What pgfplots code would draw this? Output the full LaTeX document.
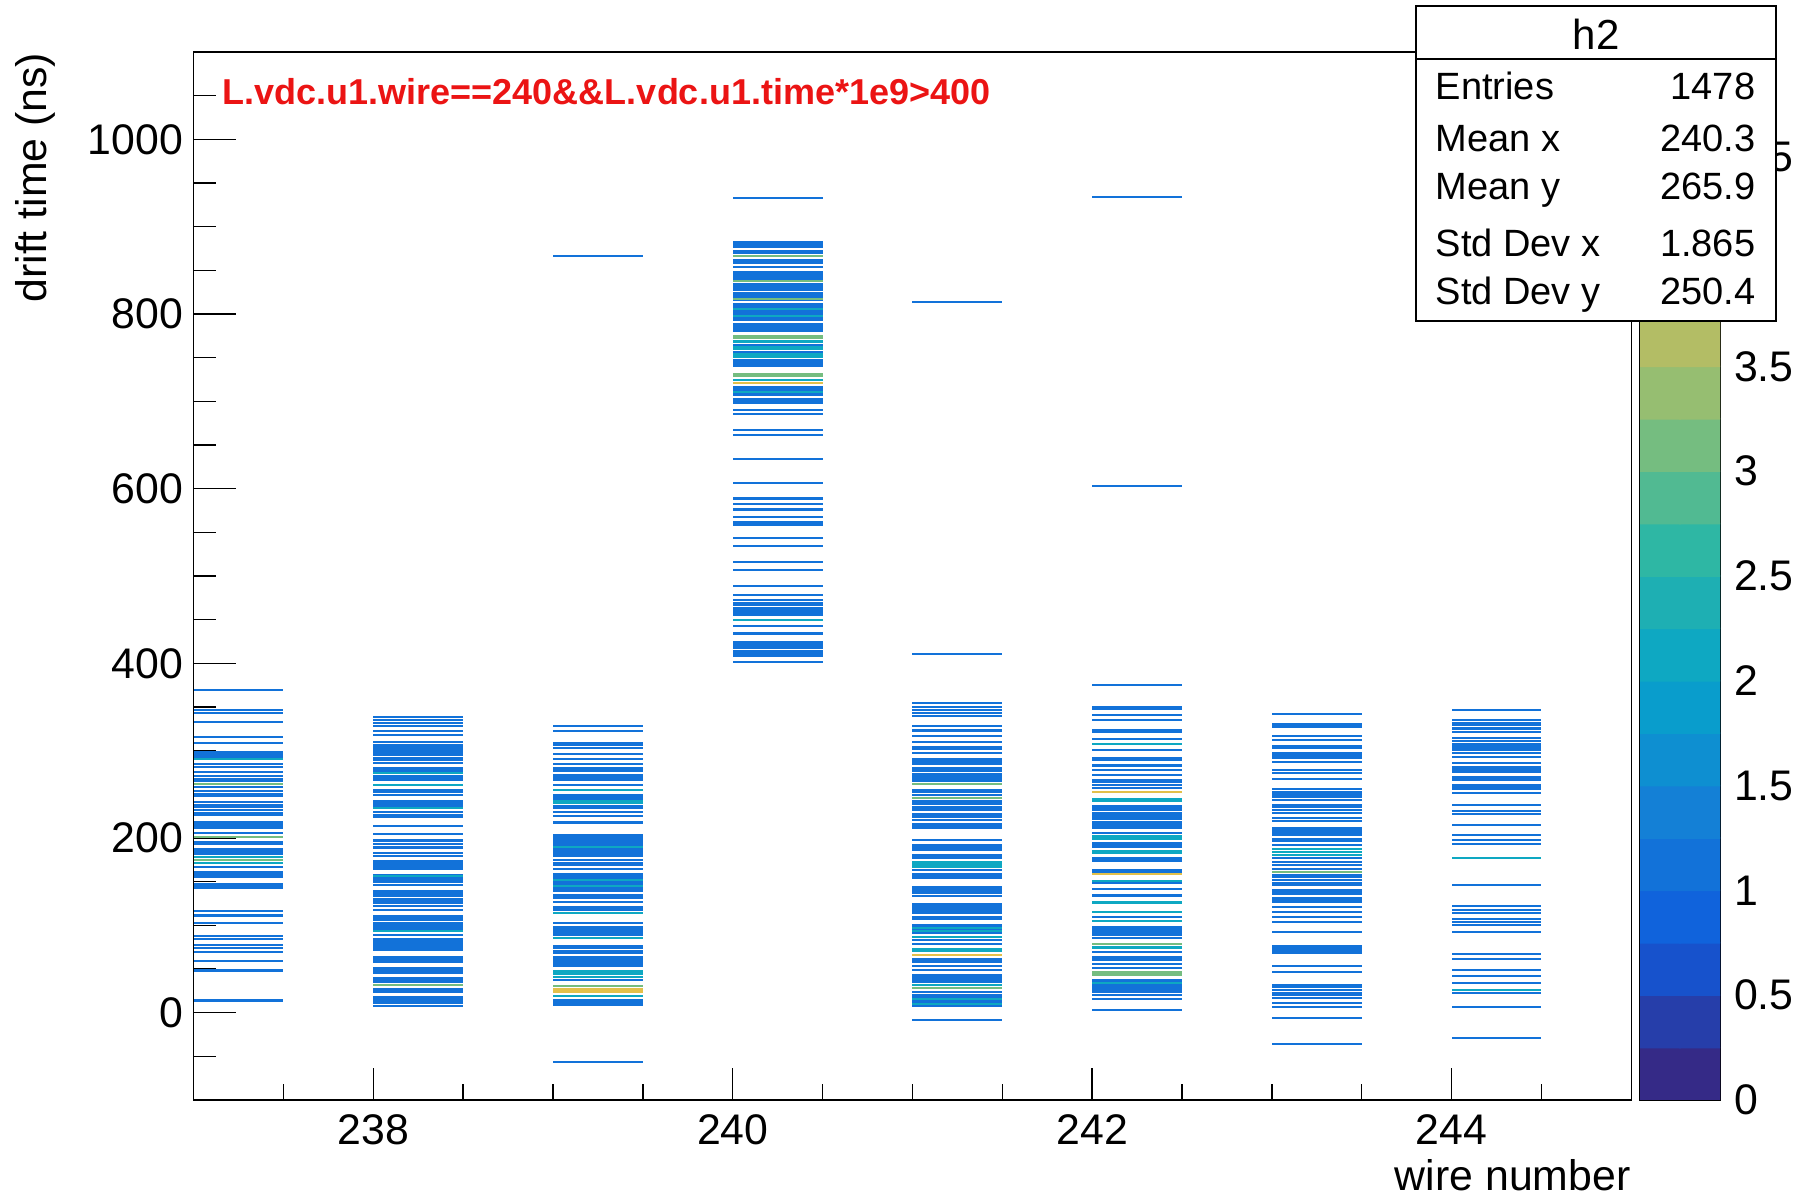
\documentclass[border=0pt]{standalone}
\usepackage{pgfplots}
\usepackage{pgfplotstable}
\pgfplotsset{compat=1.18}
\usepackage{fontspec}
\setmainfont{Liberation Sans}
\definecolor{cone}{rgb}{0.070,0.446,0.850}
\definecolor{ctwo}{rgb}{0.055,0.657,0.762}
\definecolor{cthree}{rgb}{0.460,0.743,0.502}
\definecolor{cfour}{rgb}{0.889,0.754,0.289}
\pgfplotsset{
  colormap={bird}{rgb=(0.2082,0.1664,0.5293) rgb=(0.0592,0.3599,0.8684) rgb=(0.0780,0.5041,0.8385) rgb=(0.0232,0.6419,0.7914) rgb=(0.1802,0.7178,0.6425) rgb=(0.5301,0.7492,0.4662) rgb=(0.8186,0.7328,0.3499) rgb=(0.9956,0.7862,0.1968) rgb=(0.9764,0.9832,0.0539)},
  rootframe/.style={scale only axis, width=359.4pt, height=262pt, at={(0pt,0pt)}, anchor=south west,
    xmin=237, xmax=245, ymin=-100, ymax=1100, tick align=inside,
    axis line style={line width=0.35pt}, every tick/.style={black, line width=0.35pt},
    tick label style={font=\fontsize{10.7}{12}\selectfont},
    /pgf/number format/assume math mode=true, /pgf/number format/1000 sep={}},
  wirebins/.style={only marks, mark=*, mark size=0pt, color=#1,
    error bars/.cd, y dir=both, y explicit, error mark=none,
    error bar style={line width=22.46pt, draw=#1}},
}
% bins holding 1 entry: x (bin centre), y (centre of run of bins, ns), h (height, ns)
\pgfplotstableread{
x y h
237.25 370 2.3
237.25 347 2.3
237.25 343 2.3
237.25 333 2.3
237.25 316 2.3
237.25 309 2.3
237.25 295 10
237.25 285 2.3
237.25 281 2.3
237.25 276 2.3
237.25 271 2.3
237.25 268 2.3
237.25 265 2.3
237.25 258 2.3
237.25 254 2.3
237.25 249 4
237.25 241 2.3
237.25 238 2.3
237.25 235 2.3
237.25 232 2.3
237.25 229 2.3
237.25 226 2.3
237.25 215 10
237.25 206 2.3
237.25 194 4
237.25 184 8
237.25 167 2.3
237.25 158 8
237.25 145 6
237.25 116 2.3
237.25 111 3
237.25 103 2.3
237.25 88 2.3
237.25 84 2.3
237.25 77 2.3
237.25 74 2.3
237.25 69 2.3
237.25 59 2.3
237.25 48 3
237.25 14 4
238.25 338 2.3
238.25 335 2.3
238.25 332 2.3
238.25 328 2.3
238.25 322 2.3
238.25 318 2.3
238.25 310 2.3
238.25 307 2.3
238.25 304 2.3
238.25 299.5 6
238.25 295 2.3
238.25 292 2.3
238.25 289 2.3
238.25 286 2.3
238.25 278 6
238.25 270 4
238.25 266 2.3
238.25 254 4
238.25 249 2.3
238.25 240 8
238.25 230 2.3
238.25 225 4
238.25 214 2.3
238.25 205 2.3
238.25 197 4
238.25 193 2.3
238.25 189 4
238.25 183 2.3
238.25 179 2.3
238.25 170.5 9
238.25 164 2.3
238.25 154 10
238.25 146 2.3
238.25 136 8
238.25 127.5 7
238.25 122 2.3
238.25 118 2.3
238.25 108.5 7
238.25 99 10
238.25 89 2.3
238.25 81.5 7
238.25 74 6
238.25 61 8
238.25 48 8
238.25 37 7
238.25 25 6
238.25 14.5 9
238.25 8 2.3
239.25 866 2.3
239.25 328 2.3
239.25 322 2.3
239.25 307.5 5
239.25 303 2.3
239.25 296 2.3
239.25 290 2.3
239.25 285 2.3
239.25 278.5 5
239.25 269 8
239.25 261 2.3
239.25 247 6
239.25 237 2.3
239.25 234 2.3
239.25 230 2.3
239.25 225 2.3
239.25 218 4
239.25 197.5 13
239.25 183.5 11
239.25 175 2.3
239.25 170.5 5
239.25 165 2.3
239.25 149 22
239.25 133 6
239.25 127 2.3
239.25 119 6
239.25 103 2.3
239.25 93.5 11
239.25 75.5 5
239.25 71 2.3
239.25 68 2.3
239.25 60 10
239.25 53 2.3
239.25 37 2.3
239.25 12 8
239.25 -56 2.3
240.25 933 2.3
240.25 879.5 7
240.25 871 5
240.25 860 5
240.25 854 2.3
240.25 843.5 11
240.25 831 10
240.25 820 10
240.25 802.5 21
240.25 785.5 9
240.25 780 2.3
240.25 765 2.3
240.25 757 2.3
240.25 744 10
240.25 712 12
240.25 700.5 7
240.25 690 2.3
240.25 686 2.3
240.25 667 2.3
240.25 661 2.3
240.25 634 2.3
240.25 606 2.3
240.25 589 3
240.25 582 2.3
240.25 576 4
240.25 568 2.3
240.25 560 5
240.25 544 2.3
240.25 534 2.3
240.25 516 2.3
240.25 507 2.3
240.25 488 2.3
240.25 478 2.3
240.25 472 2.3
240.25 468 4
240.25 459 10
240.25 443 2.3
240.25 434 3
240.25 420.5 9
240.25 411 8
240.25 402 2.3
241.25 814 2.3
241.25 410.5 2.3
241.25 354 2.3
241.25 350 2.3
241.25 346 2.3
241.25 343 2.3
241.25 340 2.3
241.25 328 2.3
241.25 323 4
241.25 317 2.3
241.25 310 2.3
241.25 303 5
241.25 297 2.3
241.25 289 6
241.25 285 2.3
241.25 278 6
241.25 269 10
241.25 253.5 5
241.25 249 2.3
241.25 241 6
241.25 234 6
241.25 226 6
241.25 221 2.3
241.25 213.5 7
241.25 198 2.3
241.25 189 8
241.25 179 6
241.25 163 2.3
241.25 156.5 7
241.25 140.5 9
241.25 134 2.3
241.25 119 12
241.25 108.5 5
241.25 95.5 11
241.25 83 2.3
241.25 79 2.3
241.25 60 6
241.25 53 2.3
241.25 49 2.3
241.25 39 10
241.25 24 2.3
241.25 13.5 15
241.25 -8 2.3
242.25 934 2.3
242.25 603 2.3
242.25 375 2.3
242.25 349 4
242.25 341 2.3
242.25 335 2.3
242.25 324 2.3
242.25 321 2.3
242.25 313 2.3
242.25 301 2.3
242.25 290.5 5
242.25 283 2.3
242.25 278 2.3
242.25 272 2.3
242.25 265 4
242.25 261 2.3
242.25 257 2.3
242.25 234.5 7
242.25 225.5 9
242.25 214.5 9
242.25 206 2.3
242.25 191.5 7
242.25 175 6
242.25 162.5 5
242.25 148 2.3
242.25 142 2.3
242.25 134 4
242.25 110 2.3
242.25 93.5 11
242.25 85 2.3
242.25 69 2.3
242.25 62 6
242.25 56 2.3
242.25 51 2.3
242.25 31 16
242.25 20 2.3
242.25 16 2.3
242.25 3 2.3
243.25 342 2.3
243.25 329 6
243.25 317 2.3
243.25 312 2.3
243.25 304.5 5
243.25 294 8
243.25 287 2.3
243.25 278 2.3
243.25 274 2.3
243.25 268 2.3
243.25 256 2.3
243.25 250 8
243.25 244 2.3
243.25 238 2.3
243.25 235 2.3
243.25 232 2.3
243.25 229 2.3
243.25 223 2.3
243.25 219 2.3
243.25 209 8
243.25 203 2.3
243.25 199 2.3
243.25 196 2.3
243.25 192 2.3
243.25 177 2.3
243.25 173 2.3
243.25 169 2.3
243.25 165 2.3
243.25 158 2.3
243.25 155 2.3
243.25 152 2.3
243.25 149 2.3
243.25 146 2.3
243.25 138.5 7
243.25 129.5 7
243.25 121 2.3
243.25 115 2.3
243.25 109 2.3
243.25 104 2.3
243.25 92 2.3
243.25 72 10
243.25 53 2.3
243.25 47 2.3
243.25 32 2.3
243.25 29 2.3
243.25 26 2.3
243.25 23 2.3
243.25 20 2.3
243.25 17 2.3
243.25 11 2.3
243.25 6 2.3
243.25 -6 2.3
243.25 -36 2.3
244.25 346 2.3
244.25 335 2.3
244.25 332 2.3
244.25 329 2.3
244.25 325.5 4
244.25 321 2.3
244.25 314 2.3
244.25 311 2.3
244.25 304.5 9
244.25 297 2.3
244.25 293 2.3
244.25 286 2.3
244.25 280 6
244.25 275 2.3
244.25 268 6
244.25 258.5 7
244.25 252 2.3
244.25 238 2.3
244.25 231 2.3
244.25 227 2.3
244.25 215 2.3
244.25 203 2.3
244.25 198 2.3
244.25 193 2.3
244.25 146 2.3
244.25 122 2.3
244.25 118 2.3
244.25 114 2.3
244.25 107 2.3
244.25 104 2.3
244.25 100 2.3
244.25 92 2.3
244.25 67 2.3
244.25 61 2.3
244.25 49 2.3
244.25 42 2.3
244.25 34 2.3
244.25 23 2.3
244.25 6 2.3
244.25 -29 2.3
}\binsone
% bins holding 2 entries
\pgfplotstableread{
x y h
237.25 291 2.3
237.25 178 2.3
237.25 171 2.3
238.25 274 2.3
238.25 261 2.3
238.25 234 2.3
238.25 156 2.3
238.25 93 2.3
239.25 255 2.3
239.25 241.5 5
239.25 190 2.3
239.25 152 2.3
239.25 145 2.3
239.25 114 2.3
239.25 85 2.3
239.25 46 6
239.25 41 2.3
239.25 19 2.3
240.25 806 2.3
240.25 798 2.3
240.25 768.5 4
240.25 761 5
240.25 752.75 5.5
240.25 724 2.3
240.25 711 2.3
240.25 450 2.3
241.25 170 8
241.25 97 2.3
241.25 93 2.3
241.25 87 2.3
241.25 72 5
241.25 32 2.3
241.25 16 2.3
241.25 10 2.3
242.25 308 2.3
242.25 243.5 5
242.25 200.5 5
242.25 184 5
242.25 151 2.3
242.25 126 4
242.25 115 2.3
242.25 105 2.3
242.25 74.5 4
242.25 34 2.3
243.25 187 2.3
243.25 184 2.3
243.25 181 2.3
244.25 177 2.3
244.25 26 2.3
}\binstwo
% bins holding 3 entries
\pgfplotstableread{
x y h
237.25 262 2.3
237.25 201 2.3
237.25 175 2.3
238.25 32 2.3
239.25 31 2.3
240.25 866 2.3
240.25 838 2.3
240.25 817 2.3
240.25 774 5
240.25 730 5
241.25 262 2.3
241.25 246 2.3
241.25 28 2.3
242.25 79 2.3
242.25 45 6
243.25 161 2.3
}\binsthree
% bins holding 4 entries
\pgfplotstableread{
x y h
239.25 25 6
240.25 721 2.3
241.25 66 2.3
242.25 253 2.3
242.25 159 2.3
}\binsfour
\pgfplotstableread{
x y c
0.25 0.125 0
0.75 0.125 0
0.25 0.375 0.25
0.75 0.375 0.25
0.25 0.625 0.5
0.75 0.625 0.5
0.25 0.875 0.75
0.75 0.875 0.75
0.25 1.125 1
0.75 1.125 1
0.25 1.375 1.25
0.75 1.375 1.25
0.25 1.625 1.5
0.75 1.625 1.5
0.25 1.875 1.75
0.75 1.875 1.75
0.25 2.125 2
0.75 2.125 2
0.25 2.375 2.25
0.75 2.375 2.25
0.25 2.625 2.5
0.75 2.625 2.5
0.25 2.875 2.75
0.75 2.875 2.75
0.25 3.125 3
0.75 3.125 3
0.25 3.375 3.25
0.75 3.375 3.25
0.25 3.625 3.5
0.75 3.625 3.5
0.25 3.875 3.75
0.75 3.875 3.75
0.25 4.125 4
0.75 4.125 4
0.25 4.375 4.25
0.75 4.375 4.25
0.25 4.625 4.5
0.75 4.625 4.5
0.25 4.875 4.75
0.75 4.875 4.75
}\barbands
\begin{document}
\begin{tikzpicture}
\useasboundingbox (-48.4pt,-24pt) rectangle (403.1pt,275pt);
% main axis: data + y ticks
\begin{axis}[rootframe,
  xtick=\empty,
  ytick={0,200,400,600,800,1000},
  minor ytick={-50,50,100,150,250,300,350,450,500,550,650,700,750,850,900,950,1050},
  ytick pos=left, major tick length=10.5pt, minor tick length=5.5pt,
  yticklabel style={inner sep=2.4pt}]
\addplot[wirebins=cone] table[x=x, y=y, y error expr=\thisrow{h}/2] {\binsone};
\addplot[wirebins=ctwo] table[x=x, y=y, y error expr=\thisrow{h}/2] {\binstwo};
\addplot[wirebins=cthree] table[x=x, y=y, y error expr=\thisrow{h}/2] {\binsthree};
\addplot[wirebins=cfour] table[x=x, y=y, y error expr=\thisrow{h}/2] {\binsfour};
\end{axis}
% overlay axis: x ticks
\begin{axis}[rootframe,
  ytick=\empty,
  xtick={238,240,242,244},
  minor xtick={237.5,238.5,239,239.5,240.5,241,241.5,242.5,243,243.5,244.5},
  xtick pos=bottom, major tick length=8pt, minor tick length=4pt]
\end{axis}
% colour bar
\begin{axis}[scale only axis, width=20pt, height=262pt, at={(361.6pt,0pt)}, anchor=south west,
  xmin=0, xmax=1, ymin=0, ymax=5, xtick=\empty,
  ytick={0,0.5,1,1.5,2,2.5,3,3.5,4,4.5},
  ytick pos=right, yticklabel pos=right, tick align=inside,
  major tick length=11pt,
  axis line style={line width=0.35pt}, every tick/.style={black, line width=0.35pt},
  tick label style={font=\fontsize{10.7}{12}\selectfont},
  /pgf/number format/assume math mode=true,
  colormap name=bird, point meta min=0, point meta max=5]
\addplot[matrix plot*, mesh/cols=2, point meta=explicit]
  table[x=x, y=y, meta=c] {\barbands};
\end{axis}
% title
\node[anchor=base west, inner sep=0, text={rgb,255:red,235;green,20;blue,20}, font=\bfseries\fontsize{9}{11}\selectfont]
  at (7.1pt,248.75pt) {L.vdc.u1.wire==240\&\&L.vdc.u1.time*1e9>400};
% axis titles
\node[rotate=90, anchor=east, inner sep=0, font=\fontsize{10.7}{12}\selectfont] at (-39.65pt,262pt) {drift time (ns)};
\node[anchor=east, inner sep=0, font=\fontsize{10.7}{12}\selectfont] at (359.4pt,-18.75pt) {wire number};
% stats box
\draw[line width=0.35pt, fill=white] (305.6pt,194.75pt) rectangle (395.6pt,273.5pt);
\draw[line width=0.35pt] (305.6pt,260.25pt) -- (395.6pt,260.25pt);
\node[anchor=base, inner sep=0, font=\fontsize{10.5}{12}\selectfont] at (350.6pt,262.5pt) {h2};
\begin{scope}[every node/.style={inner sep=0, font=\fontsize{9.5}{11}\selectfont}]
\node[anchor=base west] at (310.35pt,250pt) {Entries};
\node[anchor=base east] at (390.6pt,250pt) {1478};
\node[anchor=base west] at (310.35pt,237.1pt) {Mean x};
\node[anchor=base east] at (390.6pt,237.1pt) {240.3};
\node[anchor=base west] at (310.35pt,225pt) {Mean y};
\node[anchor=base east] at (390.6pt,225pt) {265.9};
\node[anchor=base west] at (310.35pt,210.8pt) {Std Dev x};
\node[anchor=base east] at (390.6pt,210.8pt) {1.865};
\node[anchor=base west] at (310.35pt,198.75pt) {Std Dev y};
\node[anchor=base east] at (390.6pt,198.75pt) {250.4};
\end{scope}
\end{tikzpicture}
\end{document}
